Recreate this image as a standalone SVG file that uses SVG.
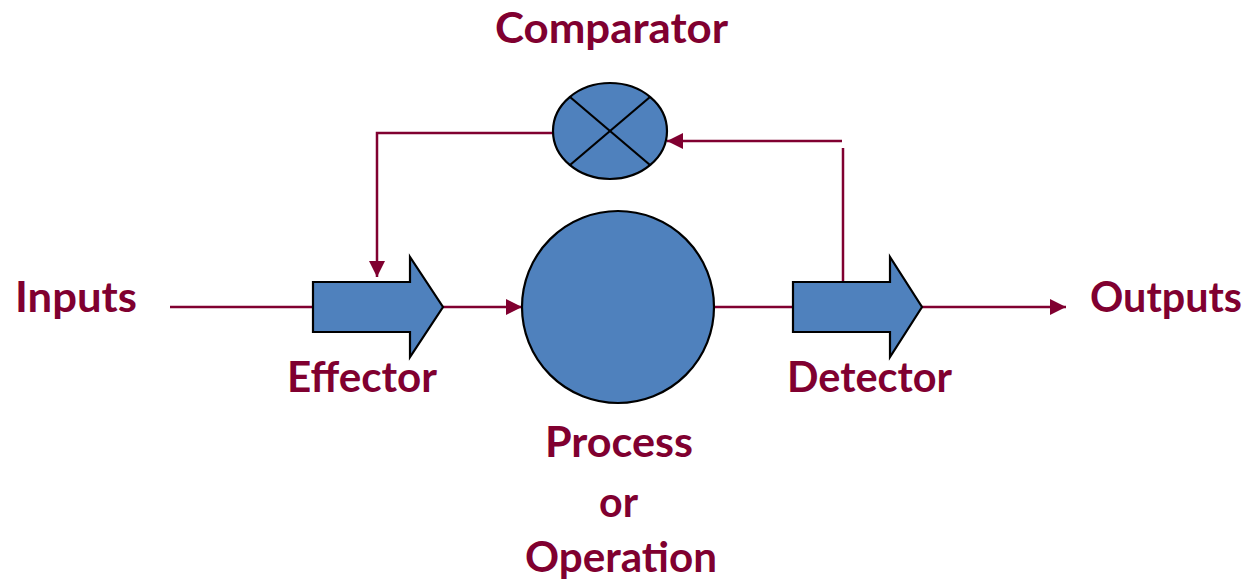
<svg xmlns="http://www.w3.org/2000/svg" width="1253" height="583" viewBox="0 0 1253 583">
  <style>
    .lbl { font-family: "Lato", "Liberation Sans", sans-serif; font-weight: 700; font-size: 42px; fill: #800030; text-anchor: middle; }
    .shape { fill: #4F81BD; stroke: #000; stroke-width: 2.2; stroke-linejoin: miter; }
    .wire { fill: none; stroke: #800030; stroke-width: 2.5; }
  </style>
  <defs>
    <marker id="head" markerUnits="userSpaceOnUse" markerWidth="16" markerHeight="16" viewBox="0 0 16 16" refX="16" refY="8" orient="auto">
      <path d="M0,0 L16,8 L0,16 Z" fill="#800030"/>
    </marker>
  </defs>

  <rect width="1253" height="583" fill="#fff"/>

  <!-- connectors -->
  <g id="connectors">
    <line class="wire" x1="170" y1="307" x2="314" y2="307"/>
    <line class="wire" x1="443" y1="307" x2="522" y2="307" marker-end="url(#head)"/>
    <line class="wire" x1="714" y1="307" x2="794" y2="307"/>
    <line class="wire" x1="922" y1="307" x2="1066" y2="307" marker-end="url(#head)"/>
    <polyline class="wire" points="555,133 377,133 377,277" marker-end="url(#head)"/>
    <line class="wire" x1="842" y1="141" x2="667" y2="141" marker-end="url(#head)"/>
    <line class="wire" x1="843" y1="148" x2="843" y2="293"/>
  </g>

  <!-- comparator -->
  <g id="comparator">
    <ellipse class="shape" cx="610" cy="131" rx="57" ry="48"/>
    <line x1="570" y1="97" x2="650" y2="165" stroke="#000" stroke-width="2.2"/>
    <line x1="650" y1="97" x2="570" y2="165" stroke="#000" stroke-width="2.2"/>
    <text class="lbl" x="611.5" y="43" textLength="233" lengthAdjust="spacingAndGlyphs">Comparator</text>
  </g>

  <!-- effector -->
  <g id="effector">
    <polygon class="shape" points="313,282 410,282 410,257 443,307 410,357 410,332 313,332"/>
    <text class="lbl" x="362" y="392" textLength="150" lengthAdjust="spacingAndGlyphs">Effector</text>
  </g>

  <!-- process -->
  <g id="process">
    <circle class="shape" cx="618" cy="307" r="96"/>
    <text class="lbl" x="619" y="457" textLength="148" lengthAdjust="spacingAndGlyphs">Process</text>
    <text class="lbl" x="618.5" y="517" textLength="39" lengthAdjust="spacingAndGlyphs">or</text>
    <text class="lbl" x="621" y="572" textLength="192" lengthAdjust="spacingAndGlyphs">Operation</text>
  </g>

  <!-- detector -->
  <g id="detector">
    <polygon class="shape" points="793,282 890,282 890,257 922,307 890,357 890,332 793,332"/>
    <text class="lbl" x="869.5" y="392" textLength="165" lengthAdjust="spacingAndGlyphs">Detector</text>
  </g>

  <!-- inputs / outputs -->
  <g id="inputs">
    <text class="lbl" x="76" y="312" textLength="122" lengthAdjust="spacingAndGlyphs">Inputs</text>
  </g>
  <g id="outputs">
    <text class="lbl" x="1166" y="312" textLength="152" lengthAdjust="spacingAndGlyphs">Outputs</text>
  </g>
</svg>
